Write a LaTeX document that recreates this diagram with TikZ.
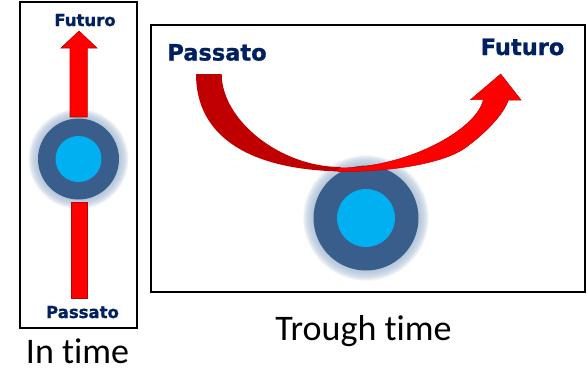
\documentclass[tikz,border=0pt]{standalone}
\usepackage{fontspec}
\setmainfont{Carlito}[Ligatures=NoCommon]
\newfontfamily\labfont{DejaVu Sans}[BoldFeatures={FakeBold=1.2}]
\definecolor{navy}{HTML}{002060}
\definecolor{ringblue}{HTML}{395E8B}
\definecolor{coreblue}{HTML}{00B0F0}
\definecolor{glowc}{HTML}{A8BCD4}
\definecolor{darkred}{HTML}{C00000}
\definecolor{brightred}{HTML}{FF0000}
\definecolor{edgered}{HTML}{C00000}
\begin{document}
\begin{tikzpicture}[x=1pt,y=-1pt,
  frame/.style={draw=black, line width=1.8pt},
  lblsmall/.style={text=navy, font=\labfont\bfseries\fontsize{16.5}{18}\selectfont, anchor=base, inner sep=0pt},
  lblbig/.style={text=navy, font=\labfont\bfseries\fontsize{22.5}{24}\selectfont, anchor=base, inner sep=0pt},
  caption/.style={text=black, font=\fontsize{36}{40}\selectfont, anchor=base, inner sep=0pt},
  ring/.style={circle, fill=ringblue, inner sep=0pt},
  core/.style={circle, fill=coreblue, inner sep=0pt},
  glowstep/.style={fill=glowc, opacity=0.1},
  redshape/.style={fill=brightred, draw=edgered, line width=0.6pt}
]
\useasboundingbox (0,0) rectangle (587,383);

% frames
\draw[frame] (20,2) rectangle (137,328);
\draw[frame] (151,25) rectangle (585,292);

% glows
\foreach \k in {1,...,16} {
  \fill[glowstep] (78.5,159) circle ({40.5+0.6*\k});
  \fill[glowstep] (366,218) circle ({52.5+0.65*\k});
}

% discs
\node[ring, minimum size=81pt] (ringL) at (78.5,159) {};
\node[core, minimum size=46pt] (coreL) at (ringL.center) {};
\node[ring, minimum size=105pt] (ringR) at (366,218) {};
\node[core, minimum size=58pt] (coreR) at (ringR.center) {};

% left arrows
\filldraw[redshape] (70,117) -- (70,48) -- (61,48) -- (79,31) -- (97,48) -- (87.3,48) -- (87.3,117) -- cycle;
\filldraw[redshape] (71,202) rectangle (87.3,298);

% curved arrow: dark left half
\fill[darkred] (196,74) .. controls (196,137) and (250,170.7) .. (345,171.5)
  -- (340,167) .. controls (280,166.7) and (221.7,120) .. (221.7,74) -- cycle;
% bright right half with head
\filldraw[redshape, line width=0.5pt] (338,171.5) .. controls (400,172) and (447,161) .. (465,148)
  .. controls (485,133.6) and (504,114) .. (508.3,100)
  -- (521,100) -- (500.7,74) -- (470.7,99.5) -- (483.3,99.5)
  .. controls (478,128) and (410,168) .. (338,168) -- cycle;

% labels
\node[lblsmall] (futL) at (85,26) {Futuro};
\node[lblsmall] (pasL) at (82.5,318) {Passato};
\node[lblbig] (pasR) at (217,60.5) {Passato};
\node[lblbig] (futR) at (522.5,55) {Futuro};
\node[caption] (capL) at (77.5,363) {In time};
\node[caption] (capR) at (363.5,340) {Trough time};
\end{tikzpicture}
\end{document}
